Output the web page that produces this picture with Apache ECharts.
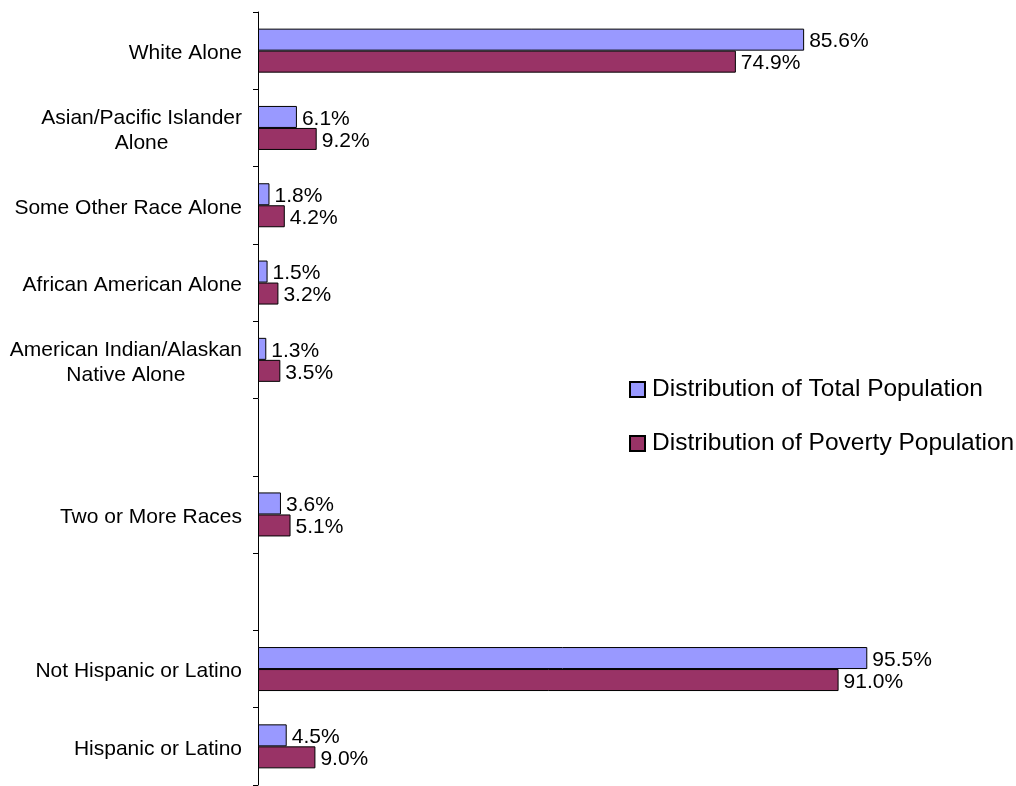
<!DOCTYPE html>
<html>
<head>
<meta charset="utf-8">
<script src="https://cdn.jsdelivr.net/npm/echarts@6/dist/echarts.min.js"></script>
<style>
  html, body { margin: 0; padding: 0; background: #fff; }
  #chart { width: 1016px; height: 786px; }
</style>
</head>
<body>
<div id="chart"></div>
<script>
// blank strings are the spacer rows in the original chart
const categories = [
  'White Alone',
  'Asian/Pacific Islander\nAlone',
  'Some Other Race Alone',
  'African American Alone',
  'American Indian/Alaskan\nNative Alone',
  '',
  'Two or More Races',
  ' ',
  'Not Hispanic or Latino',
  'Hispanic or Latino',
];
const totalPopulation = [85.6, 6.1, 1.8, 1.5, 1.3, null, 3.6, null, 95.5, 4.5];
const povertyPopulation = [74.9, 9.2, 4.2, 3.2, 3.5, null, 5.1, null, 91.0, 9.0];

const fontFamily = '"Liberation Sans", Arial, sans-serif';

const chart = echarts.init(document.getElementById('chart'));

const labelCfg = {
  show: true,
  position: 'right',
  distance: 5,
  offset: [0, 2],
  color: '#000',
  fontSize: 21,
  fontFamily: fontFamily,
  formatter: (p) => p.value.toFixed(1) + '%',
};

const option = {
  animation: false,
  textStyle: { fontFamily: fontFamily },
  legend: {
    orient: 'vertical',
    left: 624,
    top: 372,
    icon: 'rect',
    itemGap: 29,
    itemWidth: 15,
    itemHeight: 15,
    textStyle: { fontSize: 24.5, color: '#000', fontFamily: fontFamily, padding: [0, 0, 0, 2] },
    data: ['Distribution of Total Population', 'Distribution of Poverty Population'],
  },
  grid: {
    left: 258,
    top: 12,
    width: 638,
    height: 773,
    containLabel: false,
  },
  xAxis: {
    type: 'value',
    min: 0,
    max: 100,
    show: false,
  },
  yAxis: {
    type: 'category',
    inverse: true,
    data: categories,
    axisLine: { show: true, lineStyle: { color: '#000', width: 1 } },
    axisTick: { show: true, length: 5, lineStyle: { color: '#000' } },
    axisLabel: {
      color: '#000',
      fontSize: 21,
      lineHeight: 25,
      margin: 16,
      padding: [5, 0, 0, 0],
      fontFamily: fontFamily,
      // wrapped labels are centred line by line, like the original
      formatter: (v) => v.split('\n').map((s) => '{c|' + s + '}').join('\n'),
      rich: {
        c: { align: 'center', fontSize: 21, lineHeight: 25, color: '#000', fontFamily: fontFamily },
      },
    },
  },
  series: [
    {
      name: 'Distribution of Total Population',
      type: 'bar',
      data: totalPopulation,
      barWidth: 22,
      barGap: '0%',
      itemStyle: { color: '#9999FF', borderColor: '#000', borderWidth: 1 },
      label: labelCfg,
    },
    {
      name: 'Distribution of Poverty Population',
      type: 'bar',
      data: povertyPopulation,
      barWidth: 22,
      itemStyle: { color: '#993366', borderColor: '#000', borderWidth: 1 },
      label: labelCfg,
    },
  ],
};

chart.setOption(option);
</script>
</body>
</html>
